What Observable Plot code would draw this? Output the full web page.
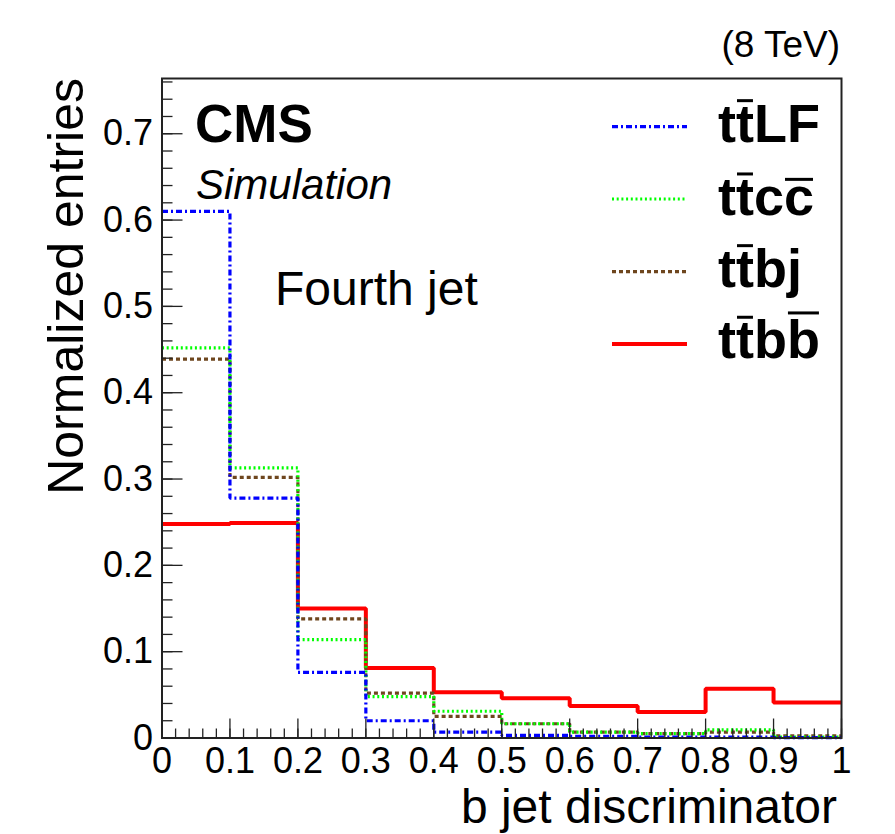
<!DOCTYPE html>
<html><head><meta charset="utf-8">
<script src="https://cdn.jsdelivr.net/npm/d3@7"></script>
<script src="https://cdn.jsdelivr.net/npm/@observablehq/plot@0.6"></script>
<style>
html,body{margin:0;padding:0;background:#fff}
svg{display:block}
</style>
</head><body><div id="chart"></div>
<script>
// ---- data ----
const binEdges = [0, 0.1, 0.2, 0.3, 0.4, 0.5, 0.6, 0.7, 0.8, 0.9];
const xEnd = 1;
const ttLF = [0.610, 0.278, 0.076, 0.020, 0.0067, 0.003, 0.002, 0.001, 0.001, 0.0005];
const ttcc = [0.452, 0.313, 0.114, 0.048, 0.031, 0.0165, 0.0067, 0.005, 0.0095, 0.001];
const ttbj = [0.439, 0.302, 0.138, 0.052, 0.025, 0.0165, 0.0067, 0.005, 0.0067, 0.0025];
const ttbb = [0.248, 0.249, 0.150, 0.081, 0.053, 0.046, 0.037, 0.030, 0.057, 0.041];
const xTicks = [0, 0.1, 0.2, 0.3, 0.4, 0.5, 0.6, 0.7, 0.8, 0.9, 1];
const xTickLabels = ["0", "0.1", "0.2", "0.3", "0.4", "0.5", "0.6", "0.7", "0.8", "0.9", "1"];
const yTicks = [0, 0.1, 0.2, 0.3, 0.4, 0.5, 0.6, 0.7];
const yTickLabels = ["0", "0.1", "0.2", "0.3", "0.4", "0.5", "0.6", "0.7"];
const yMax = 0.764;
const xMinor = d3.range(0, 1.0001, 0.02);
const yMinor = d3.range(0, yMax, 0.02);

// ---- series styling ----
const series = [
  {key: "ttbb", values: ttbb, label: ["tt", "b", "b"], color: "#ff0000", dash: null, width: 4},
  {key: "ttbj", values: ttbj, label: ["tt", "b", "j"], color: "#6e461e", dash: "4,3", width: 3.2},
  {key: "ttcc", values: ttcc, label: ["tt", "c", "c"], color: "#00ff00", dash: "2,2.7", width: 3.2},
  {key: "ttLF", values: ttLF, label: ["tt", "L", "F"], color: "#0000ff", dash: "6,3,2,3", width: 3.2}
];
function stepData(values) {
  const pts = binEdges.map((e, i) => ({x: e, y: values[i]}));
  pts.push({x: xEnd, y: values[values.length - 1]});
  return pts;
}

const W = 895, H = 834;
const mL = 161.5, mR = 54, mT = 78, mB = 96.5;
const plotW = W - mL - mR, plotH = H - mT - mB;
const font = "'Liberation Sans', Arial, Helvetica, sans-serif";

const marks = [];
for (const s of series) {
  marks.push(Plot.line(stepData(s.values), {
    x: "x", y: "y", curve: "step-after",
    stroke: s.color, strokeWidth: s.width,
    strokeDasharray: s.dash, strokeLinecap: "butt", strokeLinejoin: "miter"
  }));
}
marks.push(Plot.tickX(xMinor, {x: d => d, stroke: "#222", strokeWidth: 1.3, insetTop: plotH - 9}));
marks.push(Plot.tickX(xTicks, {x: d => d, stroke: "#222", strokeWidth: 1.3, insetTop: plotH - 19}));
marks.push(Plot.tickY(yMinor, {y: d => d, stroke: "#222", strokeWidth: 1.3, insetRight: plotW - 11}));
marks.push(Plot.tickY(yTicks, {y: d => d, stroke: "#222", strokeWidth: 1.3, insetRight: plotW - 21}));
marks.push(Plot.axisX(xTicks, {tickSize: 0, tickPadding: 9, tickFormat: (d, i) => xTickLabels[i], fontSize: 36, label: null}));
marks.push(Plot.axisY(yTicks, {tickSize: 0, tickPadding: 9, tickFormat: (d, i) => yTickLabels[i], fontSize: 36, label: null}));
marks.push(Plot.frame({stroke: "#222", strokeWidth: 2}));

const plot = Plot.plot({
  width: W, height: H,
  marginLeft: mL, marginRight: mR, marginTop: mT, marginBottom: mB,
  x: {domain: [0, 1]},
  y: {domain: [0, yMax]},
  style: {fontFamily: font, background: "#fff", color: "#000", overflow: "visible"},
  marks
});
document.getElementById("chart").appendChild(plot);

// ---- annotations ----
const svg = d3.select(plot);
function txt(x, y, s, opts = {}) {
  const t = svg.append("text").attr("x", x).attr("y", y).text(s)
    .attr("font-family", font).attr("fill", "#000")
    .attr("font-size", opts.size || 40)
    .attr("font-weight", opts.weight || "normal")
    .attr("font-style", opts.style || "normal")
    .attr("text-anchor", opts.anchor || "start");
  if (opts.transform) t.attr("transform", opts.transform);
  return t;
}
txt(840, 57, "(8 TeV)", {size: 37, anchor: "end"});
txt(195, 142, "CMS", {size: 53, weight: "bold"});
txt(196, 199, "Simulation", {size: 42, style: "italic"});
txt(275, 305, "Fourth jet", {size: 48});
txt(837, 823, "b jet discriminator", {size: 48, anchor: "end"});
txt(0, 0, "Normalized entries", {size: 50, anchor: "end", transform: "translate(83,78) rotate(-90)"});

// legend
const legendOrder = ["ttLF", "ttcc", "ttbj", "ttbb"];
const legLineY = [126.7, 199, 271.7, 344];
const legTextY = [141.7, 215, 286.7, 358.3];
const overK = {t: 0.76, c: 0.66, b: 0.84};
legendOrder.forEach((k, i) => {
  const s = series.find(d => d.key === k);
  svg.append("line").attr("x1", 612).attr("x2", 687).attr("y1", legLineY[i]).attr("y2", legLineY[i])
    .attr("stroke", s.color).attr("stroke-width", s.width)
    .attr("stroke-dasharray", s.dash).attr("stroke-linecap", "butt");
  const str = s.label.join("");
  const t = txt(718, legTextY[i], str, {size: 54, weight: "bold"});
  const node = t.node();
  const bars = [1];
  if (k === "ttcc" || k === "ttbb") bars.push(3);
  for (const ci of bars) {
    const ext = node.getExtentOfChar(ci);
    const ch = str[ci];
    const yy = legTextY[i] - overK[ch] * 54;
    svg.append("line").attr("x1", ext.x + 1).attr("x2", ext.x + ext.width - 1)
      .attr("y1", yy).attr("y2", yy).attr("stroke", "#000").attr("stroke-width", 3);
  }
});
</script>
</body></html>
